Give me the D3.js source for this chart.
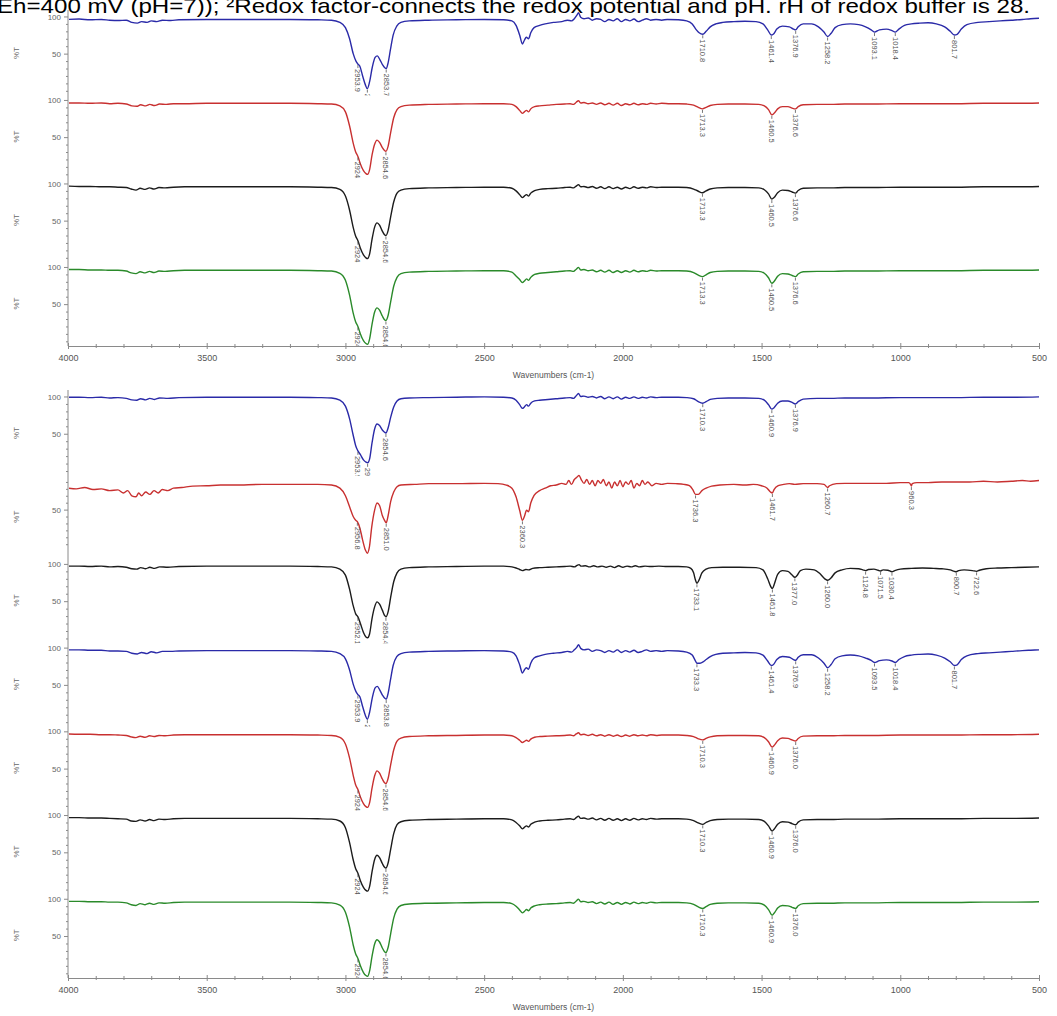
<!DOCTYPE html>
<html>
<head>
<meta charset="utf-8">
<script src="https://cdn.jsdelivr.net/npm/d3@7"></script>
<style>
body { margin: 0; background: #fff; }
svg { display: block; }
text { font-family: Arial, "Liberation Sans", sans-serif; }
</style>
</head>
<body>
<script>
const width = 1057, height = 1016

// spectra: [wavenumber, %T]
const g1Blue = [[4000,96],[3960,96.5],[3920,95.5],[3880,96],[3850,95],[3820,94.5],[3790,95],[3770,92],[3750,91],[3735,93],[3715,92],[3700,94],[3680,93],[3660,95],[3630,94.5],[3600,95.5],[3500,96],[3400,96],[3300,96],[3200,96],[3100,95.5],[3050,95],[3020,92],[3000,85],[2985,70],[2972,50],[2962,40],[2955,36],[2948,33],[2938,20],[2928,8],[2921,3],[2913,12],[2903,32],[2893,45],[2885,47],[2876,42],[2866,35],[2858,31],[2853,30],[2846,38],[2838,55],[2828,75],[2815,87],[2800,92],[2770,94],[2700,95],[2600,95.5],[2500,96],[2430,95.5],[2400,94],[2385,88],[2372,75],[2362,63],[2355,68],[2348,72],[2340,70],[2332,78],[2320,85],[2300,88],[2280,90],[2250,92],[2220,93],[2200,95],[2185,94],[2175,97],[2165,102],[2160,105],[2152,99],[2140,97],[2125,98],[2110,95],[2095,97],[2080,96],[2065,93],[2050,96],[2035,94],[2020,97],[2005,93],[1990,96],[1975,94],[1960,96.5],[1945,93],[1930,95],[1915,97],[1900,95],[1880,96],[1860,95],[1840,96],[1800,95.5],[1770,94],[1750,90],[1735,82],[1725,78],[1712,76],[1700,80],[1685,86],[1665,90],[1640,92],[1600,93],[1560,93.5],[1520,93],[1495,90],[1478,82],[1465,75],[1458,76],[1445,83],[1425,87],[1400,86],[1385,83],[1377,82],[1368,86],[1350,90],[1320,90],[1295,86],[1275,79],[1262,73],[1250,77],[1235,85],[1210,89],[1180,90],[1150,89],[1125,86],[1105,82],[1093,79],[1075,82],[1050,83],[1030,81],[1018,79],[1005,83],[985,88],[960,90],[930,91],[900,91.5],[870,90],[840,86],[820,80],[805,75],[795,76],[780,83],[760,89],[720,92],[680,93],[640,94],[600,95],[560,96],[530,97],[500,97.5]]

const g1Red = [[4000,96],[3960,96],[3920,95.5],[3880,96],[3850,95],[3820,95.5],[3790,94.5],[3770,92],[3752,91.5],[3738,93.5],[3720,92],[3705,94],[3688,92.5],[3670,94.5],[3645,94],[3620,95],[3580,95],[3500,95.5],[3400,95.5],[3300,95.5],[3200,95.5],[3100,95],[3050,94.5],[3020,92],[3000,84],[2985,65],[2972,42],[2963,30],[2955,24],[2946,14],[2935,5],[2926,1],[2920,0],[2913,6],[2904,26],[2895,40],[2886,46],[2877,43],[2867,36],[2859,32],[2854,31],[2846,38],[2837,56],[2826,76],[2814,87],[2800,91],[2770,93],[2700,94],[2600,94.5],[2500,95],[2430,95],[2400,94],[2385,91],[2372,86],[2362,82],[2355,84],[2347,86],[2340,84],[2332,88],[2318,91],[2300,92],[2270,93],[2240,94],[2210,94.5],[2190,95],[2178,94],[2168,97],[2160,99],[2152,96],[2140,96.5],[2125,95],[2110,96],[2095,94],[2080,96],[2065,93.5],[2050,95.5],[2035,93],[2020,95.5],[2005,92.5],[1990,95],[1975,93.5],[1960,95.5],[1945,93.5],[1930,95],[1915,94],[1900,95.5],[1880,94.5],[1860,95.5],[1830,95],[1800,95],[1770,94.5],[1745,93],[1728,90],[1713,88],[1700,90],[1685,92.5],[1660,94],[1620,94.5],[1560,94.5],[1510,94],[1490,92],[1475,87],[1463,80],[1455,82],[1442,88],[1425,91],[1405,91],[1390,89],[1378,88],[1368,91],[1350,93.5],[1300,94],[1250,94],[1200,94.5],[1100,94.5],[1000,95],[900,95],[800,95],[700,95.5],[600,95.5],[500,96]]

const g1Black = [[4000,96.5],[3960,96],[3920,96],[3880,95.5],[3850,95.5],[3820,95],[3790,94.5],[3772,92.5],[3755,91],[3740,93.5],[3722,92],[3706,94],[3690,92.5],[3672,94.5],[3650,94],[3620,95],[3580,95.5],[3500,95.5],[3400,95.5],[3300,95.5],[3200,95.5],[3100,95],[3050,94.5],[3020,92],[3000,83],[2985,64],[2972,41],[2963,29],[2955,23],[2946,13],[2935,4],[2926,0],[2920,-1],[2913,5],[2904,25],[2895,41],[2886,47],[2877,44],[2867,36],[2859,31],[2854,30],[2846,37],[2837,55],[2826,75],[2814,87],[2800,91],[2770,93],[2700,94],[2600,94.5],[2500,95],[2430,95],[2400,93.5],[2385,90],[2372,85],[2362,81],[2355,83],[2347,85],[2340,83],[2332,87],[2318,90.5],[2300,92],[2270,93],[2240,93.5],[2210,94.5],[2190,95],[2178,94],[2168,96.5],[2160,98.5],[2152,95.5],[2140,96],[2125,94.5],[2110,96],[2095,93.5],[2080,95.5],[2065,93],[2050,95.5],[2035,93],[2020,95],[2005,92.5],[1990,95],[1975,93],[1960,95.5],[1945,93.5],[1930,95],[1915,94],[1900,95.5],[1880,94.5],[1860,95],[1830,95],[1800,95],[1770,94.5],[1745,92.5],[1728,89.5],[1713,87.5],[1700,90],[1685,92.5],[1660,94],[1620,94.5],[1560,94.5],[1510,94],[1490,91.5],[1475,86],[1463,79],[1455,81],[1442,87.5],[1425,91],[1405,90.5],[1390,88.5],[1378,87],[1368,90.5],[1350,93.5],[1300,94],[1250,94],[1200,94.5],[1100,94.5],[1000,95],[900,95],[800,95],[700,95.5],[600,95.5],[500,96]]

const g1Green = [[4000,96.5],[3960,96.5],[3920,96],[3880,96],[3850,95.5],[3820,95.5],[3790,94.5],[3772,92],[3755,91],[3740,93.5],[3722,92],[3706,94],[3690,92.5],[3672,94.5],[3650,94],[3620,95],[3580,95.5],[3500,95.5],[3400,95.5],[3300,95.5],[3200,95.5],[3100,95],[3050,94.5],[3020,91.5],[3000,82],[2985,62],[2972,38],[2963,26],[2955,20],[2946,10],[2935,1],[2926,-3],[2920,-4],[2913,3],[2904,23],[2895,39],[2886,45],[2877,42],[2867,34],[2859,29],[2854,28],[2846,35],[2837,53],[2826,74],[2814,86],[2800,91],[2770,93],[2700,94],[2600,94.5],[2500,95],[2430,95],[2400,93],[2385,88],[2372,83],[2362,79],[2355,81],[2347,84],[2340,82],[2332,86],[2318,90],[2300,91.5],[2270,92.5],[2240,93.5],[2210,94.5],[2190,95],[2178,94],[2168,97],[2160,99.5],[2152,96],[2140,96.5],[2125,95],[2110,96],[2095,93.5],[2080,95.5],[2065,93],[2050,95.5],[2035,92.5],[2020,95],[2005,92.5],[1990,95],[1975,93],[1960,95.5],[1945,93.5],[1930,95],[1915,94],[1900,95.5],[1880,94.5],[1860,95],[1830,95],[1800,95],[1770,94.5],[1745,92.5],[1728,89],[1713,87],[1700,89.5],[1685,92.5],[1660,94],[1620,94.5],[1560,94.5],[1510,94],[1490,91.5],[1475,85.5],[1463,78],[1455,80.5],[1442,87.5],[1425,91],[1405,90.5],[1390,88.5],[1378,87],[1368,90.5],[1350,93.5],[1300,94],[1250,94],[1200,94.5],[1100,94.5],[1000,95],[900,95],[800,95],[700,95.5],[600,95.5],[500,96]]

const g2Blue1 = [[4000,99],[3960,99],[3920,98.5],[3880,99],[3850,98],[3820,98.5],[3790,97.5],[3770,95.5],[3752,95],[3738,97],[3720,95.5],[3705,97.5],[3688,96],[3670,98],[3640,97.5],[3600,98.5],[3500,99],[3400,99],[3300,99],[3200,99],[3100,98.5],[3050,98],[3020,95],[3000,87],[2985,70],[2972,48],[2963,34],[2955,27],[2946,22],[2935,15],[2926,12],[2920,11],[2913,16],[2904,38],[2895,56],[2886,63],[2877,61],[2867,55],[2859,52],[2854,51],[2846,58],[2837,72],[2826,86],[2814,94],[2800,97],[2770,98],[2700,98.5],[2600,99],[2500,99.5],[2430,99],[2400,98],[2385,95],[2372,89],[2362,84],[2355,86],[2347,89],[2340,87],[2332,91],[2318,94],[2300,95],[2270,96],[2240,97],[2210,98],[2190,98.5],[2178,97.5],[2168,101],[2160,104],[2152,100],[2140,100.5],[2125,99],[2110,100],[2095,98],[2080,100],[2065,97],[2050,99.5],[2035,97],[2020,99.5],[2005,96.5],[1990,99],[1975,97.5],[1960,99.5],[1945,97.5],[1930,99],[1915,98],[1900,99.5],[1880,98.5],[1860,99],[1830,99],[1800,99],[1770,98.5],[1745,97],[1728,93],[1712,91],[1700,93],[1685,96],[1660,97.5],[1620,98],[1560,98],[1510,97.5],[1490,95],[1475,89],[1463,83],[1455,85],[1442,91],[1425,94],[1405,94],[1390,92],[1378,90],[1368,93],[1350,96.5],[1300,97.5],[1250,97.5],[1200,98],[1100,98],[1000,98.5],[900,98.5],[800,98.5],[700,99],[600,99],[500,99.5]]

const g2Red1 = [[4000,81],[3970,80],[3940,82],[3910,79],[3880,80],[3850,77.5],[3820,78.5],[3800,74],[3785,77.5],[3770,70],[3755,68.5],[3745,74],[3735,70],[3720,75.5],[3705,72],[3690,77.5],[3675,74],[3660,79],[3640,77.5],[3620,81],[3590,82],[3550,84],[3500,84.5],[3450,85.5],[3400,85.5],[3300,86.5],[3200,86.5],[3100,86.5],[3050,85.5],[3020,81],[3000,70],[2985,54],[2972,40],[2963,34.5],[2957,32.5],[2948,23.5],[2938,6],[2928,-8.5],[2921,-13],[2914,-5],[2905,25.5],[2895,49],[2886,59.5],[2877,56],[2867,41.5],[2859,34.5],[2853,31],[2846,41.5],[2837,61.5],[2826,75.5],[2814,83],[2800,85.5],[2750,86.5],[2700,87.5],[2600,87.5],[2500,88],[2450,87.5],[2420,85.5],[2400,81],[2385,68.5],[2372,49],[2362,34.5],[2355,40],[2347,49],[2340,47],[2332,59.5],[2320,70.5],[2300,77.5],[2280,81],[2260,84.5],[2240,85.5],[2220,88],[2205,86.5],[2195,92],[2185,86.5],[2175,93.5],[2165,97],[2158,99.5],[2150,93.5],[2140,88],[2130,93.5],[2120,86.5],[2110,92],[2100,84.5],[2090,92],[2080,88],[2070,93.5],[2060,84.5],[2050,90],[2040,81],[2030,90],[2020,84.5],[2010,92],[2000,83],[1990,90],[1980,86.5],[1970,92],[1960,81],[1950,88],[1940,84.5],[1930,92],[1920,86.5],[1910,90],[1895,84.5],[1880,88],[1860,86.5],[1840,88],[1810,87.5],[1780,86.5],[1760,84.5],[1748,79],[1738,72],[1728,72],[1715,77.5],[1700,81],[1680,84],[1650,85.5],[1600,86.5],[1560,85.5],[1530,86.5],[1500,84.5],[1480,81],[1468,75.5],[1461,74],[1455,79],[1440,84.5],[1420,86.5],[1400,87.5],[1380,86.5],[1350,87.5],[1300,87.5],[1275,86.5],[1262,82],[1255,84.5],[1230,87.5],[1200,88],[1100,88],[1050,88],[1000,89],[970,89],[963,86.5],[960,84],[957,87.5],[940,89],[900,89],[850,90],[800,90],[750,90],[700,91],[650,90],[600,91],[560,92],[530,91],[500,92]]

const g2Black1 = [[4000,97],[3960,97],[3920,96.5],[3880,97],[3850,96],[3820,96.5],[3790,95.5],[3770,93.5],[3752,93],[3738,95],[3720,93.5],[3705,95.5],[3688,94],[3670,96],[3640,95.5],[3600,96.5],[3500,97],[3400,97],[3300,97],[3200,97],[3100,96.5],[3050,96],[3020,93],[3000,85],[2985,66],[2972,44],[2963,33],[2955,29],[2946,20],[2935,8],[2926,2],[2920,1],[2913,6],[2904,27],[2895,42],[2886,49],[2877,46],[2867,38],[2859,31],[2854,29],[2846,36],[2837,55],[2826,76],[2814,88],[2800,93],[2770,95],[2700,96],[2600,96.5],[2500,97],[2430,97],[2400,96],[2385,94.5],[2372,92.5],[2362,91],[2350,92.5],[2340,92],[2325,94],[2300,95],[2270,95.5],[2240,96],[2210,96.5],[2190,97],[2175,96],[2165,98],[2158,99],[2150,97],[2135,97.5],[2120,96],[2105,97.5],[2090,96],[2075,97],[2060,95.5],[2045,97],[2030,95],[2015,97.5],[2000,95.5],[1985,97],[1970,96],[1955,97.5],[1940,96],[1920,97],[1900,96.5],[1870,97],[1840,96.5],[1800,96.5],[1770,96],[1755,94],[1745,88],[1738,78],[1733,74],[1726,78],[1715,88],[1700,93],[1680,95],[1640,95.5],[1580,95.5],[1520,95],[1495,92],[1478,80],[1466,69],[1461,67],[1454,73],[1442,86],[1425,91],[1405,90],[1390,85],[1380,82],[1373,84],[1360,91],[1340,93],[1310,92],[1290,87],[1272,80],[1262,78],[1250,81],[1235,88],[1210,92],[1180,94],[1150,93.5],[1135,92],[1125,91],[1115,92.5],[1095,93],[1080,91.5],[1071,90.5],[1062,92],[1045,91.5],[1030,89.5],[1020,91],[1000,93],[960,94],[920,94.5],[880,94],[850,93.5],[820,92],[805,90],[798,89.5],[790,91],[770,92],[740,91],[725,90],[715,91.5],[690,93.5],[650,94.5],[600,95],[550,95.5],[500,96]]

const g2Blue2 = [[4000,97],[3960,97],[3920,96.5],[3880,96.5],[3850,95.5],[3820,95.5],[3790,95],[3770,92.5],[3750,91.5],[3735,93.5],[3715,92],[3700,94.5],[3680,93],[3660,95],[3630,95],[3600,95.5],[3500,96],[3400,96],[3300,96],[3200,96],[3100,95.5],[3050,95],[3020,92],[3000,85],[2985,70],[2972,51],[2962,41],[2955,37],[2948,34],[2938,21],[2928,9],[2921,4],[2913,13],[2903,33],[2893,46],[2885,48],[2876,43],[2866,36],[2858,32],[2853,31],[2846,39],[2838,56],[2828,76],[2815,88],[2800,92],[2770,94],[2700,95],[2600,95.5],[2500,96],[2430,95.5],[2400,94],[2385,89],[2372,77],[2362,66],[2355,70],[2348,73],[2340,71],[2332,79],[2320,86],[2300,89],[2280,91],[2250,92.5],[2220,93.5],[2200,95],[2185,94],[2175,97],[2165,101],[2160,104],[2152,99],[2140,97],[2125,98],[2110,95],[2095,97],[2080,96],[2065,93.5],[2050,96],[2035,94],[2020,97],[2005,93.5],[1990,96],[1975,94],[1960,96.5],[1945,93.5],[1930,95],[1915,97],[1900,95],[1880,96],[1860,95],[1840,96],[1800,95.5],[1770,94],[1750,90],[1738,82],[1733,79],[1722,79],[1710,81],[1700,84],[1685,88],[1665,91],[1640,92.5],[1600,93],[1560,93.5],[1520,93],[1495,90],[1478,82],[1465,76],[1458,77],[1445,84],[1425,88],[1400,87],[1385,84],[1377,83],[1368,87],[1350,90.5],[1320,90.5],[1295,86],[1275,79],[1262,73],[1250,77],[1235,85],[1210,89],[1180,90],[1150,89],[1125,86],[1105,83],[1093,80],[1075,82.5],[1050,83.5],[1030,82],[1018,80],[1005,84],[985,88],[960,90],[930,91],[900,91.5],[870,90],[840,86],[820,81],[805,76],[795,77],[780,84],[760,89],[720,92],[680,93],[640,94],[600,95],[560,96],[530,96.5],[500,97]]

const g2Red2 = [[4000,96.5],[3960,96],[3920,96],[3880,95.5],[3850,95.5],[3820,95],[3790,94.5],[3772,92.5],[3755,91.5],[3740,93.5],[3722,92],[3706,94],[3690,93],[3672,94.5],[3650,94],[3620,95],[3580,95.5],[3500,95.5],[3400,95.5],[3300,95.5],[3200,95.5],[3100,95],[3050,94.5],[3020,92],[3000,83],[2985,64],[2972,41],[2963,28],[2955,22],[2946,12],[2935,3],[2926,-1],[2920,-2],[2913,4],[2904,24],[2895,40],[2886,47],[2877,44],[2867,36],[2859,31],[2854,30],[2846,37],[2837,55],[2826,75],[2814,87],[2800,91],[2770,93],[2700,94],[2600,94.5],[2500,95],[2430,95],[2400,94],[2385,91.5],[2372,88],[2362,85],[2355,86.5],[2347,88],[2340,86.5],[2332,89.5],[2318,92],[2300,93],[2270,93.5],[2240,94],[2210,94.5],[2190,95],[2178,94],[2168,96.5],[2160,98],[2152,95.5],[2140,96],[2125,94.5],[2110,96],[2095,94],[2080,95.5],[2065,93.5],[2050,95.5],[2035,93.5],[2020,95],[2005,93],[1990,95],[1975,93.5],[1960,95.5],[1945,94],[1930,95],[1915,94],[1900,95.5],[1880,94.5],[1860,95],[1830,95],[1800,95],[1770,94.5],[1745,93],[1728,90],[1712,88.5],[1700,90.5],[1685,92.5],[1660,94],[1620,94.5],[1560,94.5],[1510,94],[1490,91.5],[1475,86],[1462,79],[1455,81],[1442,87.5],[1425,91],[1405,90.5],[1390,88.5],[1377,87],[1368,90.5],[1350,93.5],[1300,94],[1250,94],[1200,94.5],[1100,94.5],[1000,95],[900,95],[800,95],[700,95.5],[600,95.5],[500,96]]

const g2Black2 = [[4000,96.5],[3960,96.5],[3920,96],[3880,96],[3850,95.5],[3820,95],[3790,94.5],[3772,92],[3755,91.5],[3740,93.5],[3722,92],[3706,94],[3690,92.5],[3672,94.5],[3650,94],[3620,95],[3580,95.5],[3500,95.5],[3400,95.5],[3300,95.5],[3200,95.5],[3100,95],[3050,94.5],[3020,92],[3000,83],[2985,63],[2972,40],[2963,28],[2955,22],[2946,12],[2935,3],[2926,-1],[2920,-2],[2913,4],[2904,24],[2895,40],[2886,46],[2877,43],[2867,35],[2859,30],[2854,29],[2846,36],[2837,54],[2826,75],[2814,87],[2800,91],[2770,93],[2700,94],[2600,94.5],[2500,95],[2430,95],[2400,93.5],[2385,90],[2372,85.5],[2362,81.5],[2355,83.5],[2347,85.5],[2340,84],[2332,87.5],[2318,90.5],[2300,92],[2270,93],[2240,93.5],[2210,94.5],[2190,95],[2178,94],[2168,96.5],[2160,98.5],[2152,95.5],[2140,96],[2125,94.5],[2110,96],[2095,93.5],[2080,95.5],[2065,93],[2050,95.5],[2035,93],[2020,95],[2005,92.5],[1990,95],[1975,93],[1960,95.5],[1945,93.5],[1930,95],[1915,94],[1900,95.5],[1880,94.5],[1860,95],[1830,95],[1800,95],[1770,94.5],[1745,92.5],[1728,89.5],[1712,87.5],[1700,90],[1685,92.5],[1660,94],[1620,94.5],[1560,94.5],[1510,94],[1490,91.5],[1475,85.5],[1462,78.5],[1455,81],[1442,87.5],[1425,91],[1405,90.5],[1390,88.5],[1377,87],[1368,90.5],[1350,93.5],[1300,94],[1250,94],[1200,94.5],[1100,94.5],[1000,95],[900,95],[800,95],[700,95.5],[600,95.5],[500,96]]

const g2Green = [[4000,96.5],[3960,96.5],[3920,96],[3880,96],[3850,95.5],[3820,95.5],[3790,94.5],[3772,92],[3755,91],[3740,93.5],[3722,92],[3706,94],[3690,92.5],[3672,94.5],[3650,94],[3620,95],[3580,95.5],[3500,95.5],[3400,95.5],[3300,95.5],[3200,95.5],[3100,95],[3050,94.5],[3020,91.5],[3000,82],[2985,62],[2972,38],[2963,26],[2955,20],[2946,10],[2935,1],[2926,-3],[2920,-4],[2913,3],[2904,23],[2895,39],[2886,45],[2877,42],[2867,34],[2859,29],[2854,28],[2846,35],[2837,53],[2826,74],[2814,86],[2800,91],[2770,93],[2700,94],[2600,94.5],[2500,95],[2430,95],[2400,93.5],[2385,90],[2372,85],[2362,81],[2355,83],[2347,85.5],[2340,84],[2332,87.5],[2318,90.5],[2300,92],[2270,93],[2240,93.5],[2210,94.5],[2190,95],[2178,94],[2168,97],[2160,99.5],[2152,96],[2140,96.5],[2125,95],[2110,96],[2095,93.5],[2080,95.5],[2065,93],[2050,95.5],[2035,92.5],[2020,95],[2005,92.5],[1990,95],[1975,93],[1960,95.5],[1945,93.5],[1930,95],[1915,94],[1900,95.5],[1880,94.5],[1860,95],[1830,95],[1800,95],[1770,94.5],[1745,92.5],[1728,89],[1712,87],[1700,89.5],[1685,92.5],[1660,94],[1620,94.5],[1560,94.5],[1510,94],[1490,91.5],[1475,85.5],[1462,78],[1455,80.5],[1442,87.5],[1425,91],[1405,90.5],[1390,88.5],[1377,87],[1368,90.5],[1350,93.5],[1300,94],[1250,94],[1200,94.5],[1100,94.5],[1000,95],[900,95],[800,95],[700,95.5],[600,95.5],[500,96]]

// peak labels: [wavenumber, text]
const g1BlueLabels = [[2955,"2953.9"],[2921,"2921.6"],[2853,"2853.7"],[1712,"1710.8"],[1465,"1461.4"],[1377,"1376.9"],[1262,"1258.2"],[1093,"1093.1"],[1018,"1018.4"],[805,"801.7"]]
const g1RedLabels = [[2955,"2924.3"],[2854,"2854.6"],[1713,"1713.3"],[1463,"1460.5"],[1378,"1376.6"]]
const g1BlackLabels = [[2955,"2924.3"],[2854,"2854.6"],[1713,"1713.3"],[1463,"1460.5"],[1378,"1376.6"]]
const g1GreenLabels = [[2955,"2924.3"],[2854,"2854.6"],[1713,"1713.3"],[1463,"1460.5"],[1378,"1376.6"]]
const g2Blue1Labels = [[2955,"2953.9"],[2920,"2921.5"],[2854,"2854.6"],[1712,"1710.3"],[1463,"1460.9"],[1378,"1376.9"]]
const g2Red1Labels = [[2957,"2956.8"],[2853,"2851.0"],[2362,"2360.3"],[1738,"1736.3"],[1461,"1461.7"],[1262,"1260.7"],[960,"960.3"]]
const g2Black1Labels = [[2955,"2952.1"],[2854,"2854.4"],[1733,"1733.1"],[1461,"1461.8"],[1380,"1377.0"],[1262,"1260.0"],[1125,"1124.8"],[1071,"1071.5"],[1030,"1030.4"],[798,"800.7"],[725,"722.6"]]
const g2Blue2Labels = [[2955,"2953.9"],[2921,"2921.6"],[2853,"2853.8"],[1733,"1733.3"],[1465,"1461.4"],[1377,"1376.9"],[1262,"1258.2"],[1093,"1093.5"],[1018,"1018.4"],[805,"801.7"]]
const g2Red2Labels = [[2955,"2924.3"],[2854,"2854.6"],[1712,"1710.3"],[1462,"1460.9"],[1377,"1376.0"]]
const g2Black2Labels = [[2955,"2924.3"],[2854,"2854.6"],[1712,"1710.3"],[1462,"1460.9"],[1377,"1376.0"]]
const g2GreenLabels = [[2955,"2924.3"],[2854,"2854.6"],[1712,"1710.3"],[1462,"1460.9"],[1377,"1376.0"]]

const xTicksMajor = [4000, 3500, 3000, 2500, 2000, 1500, 1000, 500]
const yTickValues = [100, 50]

const blue = '#2a2aa8', red = '#c83030', black = '#1c1c1c', green = '#2a8a2a'
const normalDomain = [-6.3, 106]

const groups = [
    {top: 12, axisY: 346, panels: [
        {data: g1Blue, labels: g1BlueLabels, color: blue, domain: normalDomain},
        {data: g1Red, labels: g1RedLabels, color: red, domain: normalDomain},
        {data: g1Black, labels: g1BlackLabels, color: black, domain: normalDomain},
        {data: g1Green, labels: g1GreenLabels, color: green, domain: normalDomain}
    ]},
    {top: 392, axisY: 978, panels: [
        {data: g2Blue1, labels: g2Blue1Labels, color: blue, domain: normalDomain},
        {data: g2Red1, labels: g2Red1Labels, color: red, domain: [-22, 99]},
        {data: g2Black1, labels: g2Black1Labels, color: black, domain: normalDomain},
        {data: g2Blue2, labels: g2Blue2Labels, color: blue, domain: normalDomain},
        {data: g2Red2, labels: g2Red2Labels, color: red, domain: normalDomain},
        {data: g2Black2, labels: g2Black2Labels, color: black, domain: normalDomain},
        {data: g2Green, labels: g2GreenLabels, color: green, domain: normalDomain}
    ]}
]

const svg = d3.select('body').append('svg')
    .attr('width', width)
    .attr('height', height)

// caption line cut off at the top of the picture
svg.append('text')
    .attr('x', -3)
    .attr('y', 13)
    .attr('font-size', 21)
    .attr('textLength', 1033)
    .attr('lengthAdjust', 'spacingAndGlyphs')
    .attr('fill', '#000')
    .text('Eh=400 mV (pH=7)); \u00b2Redox factor-connects the redox potential and pH. rH of redox buffer is 28.')

const xScale = d3.scaleLinear().domain([4000, 500]).range([68, 1039])
const axisGrey = '#8a8a8a'
const defs = svg.append('defs')
let clipId = 0

groups.forEach(function(grp) {
    const bandH = (grp.axisY - grp.top) / grp.panels.length

    // vertical axis for the whole stack
    svg.append('line')
        .attr('x1', xScale(4000)).attr('x2', xScale(4000))
        .attr('y1', grp.top - 2).attr('y2', grp.axisY)
        .attr('stroke', axisGrey)

    grp.panels.forEach(function(p, i) {
        const top = grp.top + i * bandH
        const yScale = d3.scaleLinear().domain(p.domain).range([top + bandH, top])

        // y ticks
        const yAxis = svg.append('g')
            .attr('transform', 'translate(' + xScale(4000) + ',0)')
            .call(d3.axisLeft(yScale)
                .tickValues(yTickValues.filter(v => v >= p.domain[0] && v <= p.domain[1]))
                .tickSize(4)
                .tickPadding(3))
        yAxis.select('.domain').remove()
        yAxis.selectAll('line').attr('stroke', axisGrey)
        yAxis.selectAll('text').attr('font-size', 8).attr('fill', '#666')
            .style('font-family', 'Arial, "Liberation Sans", sans-serif')

        const minor = svg.append('g')
            .attr('transform', 'translate(' + xScale(4000) + ',0)')
            .call(d3.axisLeft(yScale)
                .tickValues(d3.range(0, 101, 10).filter(v => v >= p.domain[0] && v <= p.domain[1] && v !== 50 && v !== 100))
                .tickSize(2)
                .tickFormat(''))
        minor.select('.domain').remove()
        minor.selectAll('line').attr('stroke', axisGrey)

        svg.append('text')
            .attr('transform', 'translate(19,' + (top + 41) + ') rotate(-90)')
            .attr('text-anchor', 'middle')
            .attr('font-size', 8)
            .attr('fill', '#666')
            .text('%T')

        const id = 'clip' + (clipId++)
        defs.append('clipPath').attr('id', id)
            .append('rect')
            .attr('x', xScale(4000) + 1).attr('y', top - 3)
            .attr('width', xScale(500) - xScale(4000) + 4).attr('height', bandH + 3)

        const panel = svg.append('g').attr('clip-path', 'url(#' + id + ')')

        const line = d3.line()
            .x(d => xScale(d[0]))
            .y(d => yScale(d[1]))
            .curve(d3.curveMonotoneX)

        panel.append('path')
            .datum(p.data)
            .attr('d', line)
            .attr('fill', 'none')
            .attr('stroke', p.color)
            .attr('stroke-width', 1.4)
            .attr('stroke-linejoin', 'round')

        // peak labels hang below the curve
        p.labels.forEach(function(l) {
            const pt = d3.least(p.data, d => Math.abs(d[0] - l[0]))
            const px = xScale(l[0]), py = yScale(pt[1])
            panel.append('line')
                .attr('x1', px).attr('x2', px)
                .attr('y1', py + 1).attr('y2', py + 4)
                .attr('stroke', '#555').attr('stroke-width', 0.8)
            panel.append('text')
                .attr('transform', 'translate(' + (px - 2.7) + ',' + (py + 5) + ') rotate(90)')
                .attr('font-size', 7.5)
                .attr('fill', '#555')
                .text(l[1])
        })
    })

    // wavenumber axis
    const xAxis = svg.append('g')
        .attr('transform', 'translate(0,' + grp.axisY + ')')
        .call(d3.axisBottom(xScale).tickValues(xTicksMajor).tickSize(3).tickPadding(6).tickFormat(d3.format('d')))
    xAxis.select('.domain').attr('stroke', axisGrey)
    xAxis.selectAll('line').attr('stroke', axisGrey).attr('y1', -3)
    xAxis.selectAll('text').attr('font-size', 9).attr('fill', '#555')
        .style('font-family', 'Arial, "Liberation Sans", sans-serif')

    const xMinor = svg.append('g')
        .attr('transform', 'translate(0,' + grp.axisY + ')')
        .call(d3.axisBottom(xScale).tickValues(d3.range(4000, 499, -100).filter(v => v % 500 !== 0)).tickSize(2).tickFormat(''))
    xMinor.select('.domain').remove()
    xMinor.selectAll('line').attr('stroke', axisGrey).attr('y1', -2)

    svg.append('text')
        .attr('x', xScale(2250))
        .attr('y', grp.axisY + 32)
        .attr('text-anchor', 'middle')
        .attr('font-size', 8.5)
        .attr('fill', '#555')
        .text('Wavenumbers (cm-1)')
})
</script>
</body>
</html>
